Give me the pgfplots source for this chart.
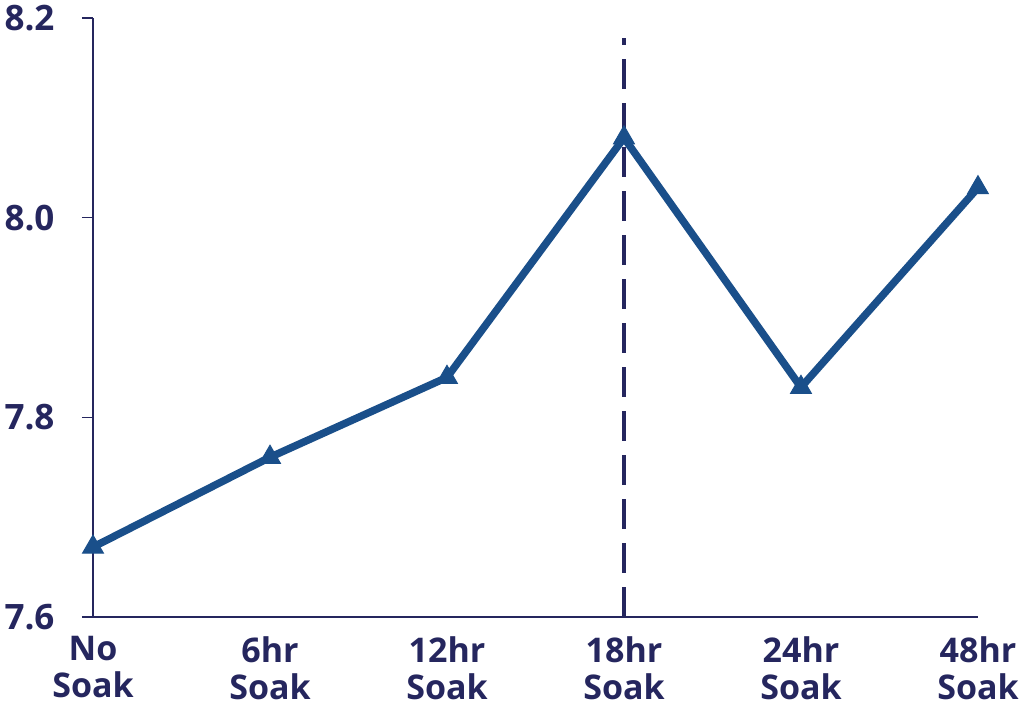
\documentclass[border=0pt]{standalone}
\usepackage{pgfplots}
\pgfplotsset{compat=1.18}
\usepackage{fontspec}
\setmainfont{Open Sans}
\definecolor{navy}{HTML}{25265E}
\definecolor{lineblue}{HTML}{1A4F8A}
\begin{document}
\begin{tikzpicture}
\begin{axis}[
  scale only axis,
  width=885pt, height=599pt,
  xmin=0, xmax=5, ymin=7.6, ymax=8.2,
  axis x line*=bottom, axis y line*=left,
  axis line style={navy, line width=1.4pt},
  xtick={0,1,2,3,4,5},
  xticklabels={No\\Soak,6hr\\Soak,12hr\\Soak,18hr\\Soak,24hr\\Soak,48hr\\Soak},
  x tick label style={align=center, font=\fontsize{34}{37}\selectfont\bfseries, text=navy, yshift=-5pt},
  ytick={7.6,7.8,8.0,8.2},
  yticklabels={7.6,7.8,8.0,8.2},
  y tick label style={font=\fontsize{35}{41}\selectfont\bfseries, text=navy, xshift=-24pt},
  major x tick style={draw=none},
  major y tick style={navy, line width=1.4pt},
  tick align=outside,
  major tick length=11pt,
  xtick pos=bottom, ytick pos=left,
  clip=false,
]
\addplot[navy, line width=3.2pt, dash pattern=on 30pt off 14pt] coordinates {(3,7.6) (3,8.18)};
\addplot[lineblue, line width=7.5pt, mark=triangle*, mark size=12pt, mark options={solid, line width=1pt}] coordinates {
(0,7.67) (1,7.76) (2,7.84) (3,8.08) (4,7.83) (5,8.03)};
\end{axis}
\path (current axis.south west)+(-93pt,-89pt) coordinate (a);
\path (current axis.north east)+(44pt,18pt) coordinate (b);
\useasboundingbox (a) rectangle (b);
\end{tikzpicture}
\end{document}
